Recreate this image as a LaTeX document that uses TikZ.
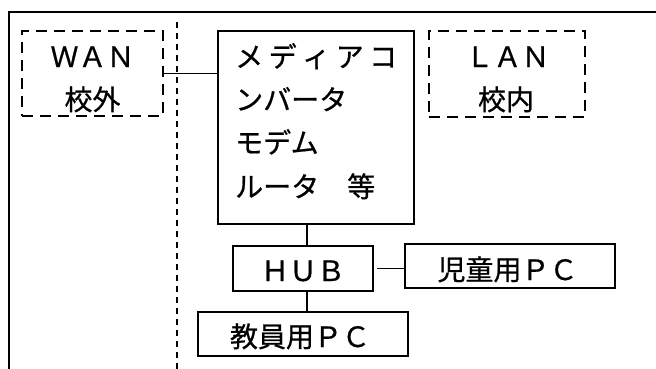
\documentclass[tikz,border=0pt]{standalone}
\usepackage{fontspec}
\setmainfont{Noto Sans CJK JP}[FakeBold=0.7]
\begin{document}
\begin{tikzpicture}[x=1pt,y=-1pt,
  box/.style={draw,line width=1.5pt,inner sep=0pt,outer sep=0pt,rectangle},
  dbox/.style={box,dash pattern=on 11pt off 7pt},
  txt/.style={inner sep=0pt,font=\fontsize{28}{28}\selectfont},
  line/.style={line width=1.5pt}]
\useasboundingbox (0,0) rectangle (656,369);
% frame
\coordinate (fb) at (9,370);
\coordinate (ft) at (9,12);
\coordinate (fr) at (660,12);
\draw[line width=1.6pt] (fb) -- (ft) -- (fr);
% boundary
\coordinate (bt) at (177,22);
\coordinate (bb) at (177,370);
\draw[line width=1.5pt,dash pattern=on 6pt off 5pt] (bt) -- (bb);
% boxes
\node[dbox,minimum width=141pt,minimum height=85pt] (wan) at (92.5,73.5) {};
\node[dbox,minimum width=156pt,minimum height=86pt] (lan) at (507,74) {};
\node[box,minimum width=196pt,minimum height=193pt] (media) at (316,127.5) {};
\node[box,minimum width=140pt,minimum height=45pt] (hub) at (303,268.5) {};
\node[box,minimum width=210pt,minimum height=44pt] (kid) at (510,266) {};
\node[box,minimum width=210pt,minimum height=44pt] (tea) at (303,334) {};
% texts
\node[txt,anchor=base] (wan1) at (92.5,67) {ＷＡＮ};
\node[txt,anchor=base] (wan2) at (92.5,110) {校外};
\node[txt,anchor=base] (lan1) at (507.5,67) {ＬＡＮ};
\node[txt,anchor=base] (lan2) at (506,110) {校内};
\node[txt,anchor=base west] (m1) at (235,67) {\makebox[162pt][s]{メ\hfill デ\hfill ィ\hfill ア\hfill コ}};
\node[txt,anchor=base west] (m2) at (235,110) {ンバータ};
\node[txt,anchor=base west] (m3) at (235,153) {モデム};
\node[txt,anchor=base west] (m4) at (235,197) {ルータ　等};
\node[txt,anchor=base] (hubt) at (303,281) {ＨＵＢ};
\node[txt,anchor=base] (kidt) at (507.5,280) {児童用ＰＣ};
\node[txt,anchor=base] (teat) at (300,347) {教員用ＰＣ};
% connectors
\coordinate (cx) at (307,0);
\draw[line] (wan.east) -- (wan.east -| media.west);
\draw[line] (media.south -| cx) -- (hub.north -| cx);
\draw[line] (hub.south -| cx) -- (tea.north -| cx);
\draw[line] ([xshift=4pt]hub.east) -- (hub.east -| kid.west);
\end{tikzpicture}
\end{document}
